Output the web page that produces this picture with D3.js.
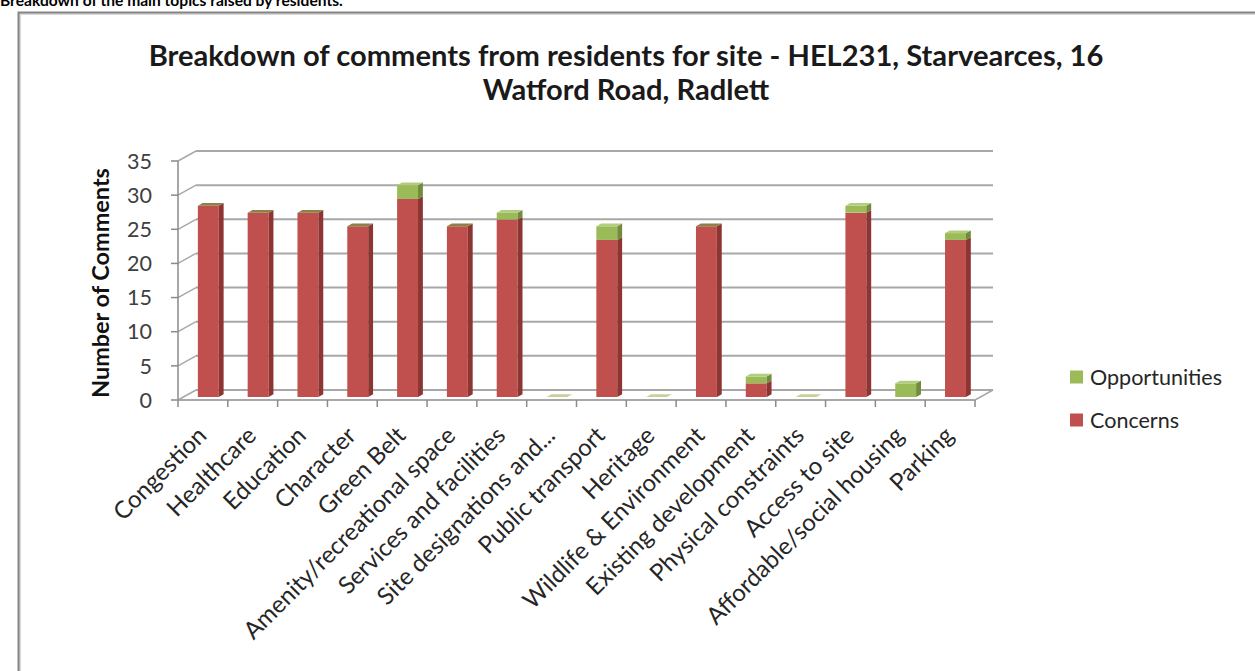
<!DOCTYPE html>
<html><head><meta charset="utf-8">
<script src="https://cdn.jsdelivr.net/npm/d3@7"></script>
<style>html,body{margin:0;padding:0;background:#fff;overflow:hidden}svg{display:block}</style>
</head><body>
<svg id="c" width="1255" height="671"></svg>
<script>
const categories = ["Congestion","Healthcare","Education","Character","Green Belt","Amenity/recreational space","Services and facilities","Site designations and...","Public transport","Heritage","Wildlife & Environment","Existing development","Physical constraints","Access to site","Affordable/social housing","Parking"];
const concerns      = [28,27,27,25,29,25,26,0,23,0,25,2,0,27,0,23];
const opportunities = [0,0,0,0,2,0,1,0,2,0,0,1,0,1,2,1];
const yTicks = [0,5,10,15,20,25,30,35];
const seriesNames = ["Opportunities","Concerns"];
const headerText = "Breakdown of the main topics raised by residents.";
const titleLines = ["Breakdown of comments from residents for site - HEL231, Starvearces, 16","Watford Road, Radlett"];
const yTitle = "Number of Comments";

const svg = d3.select("#c");
const FONT = "Lato, 'Open Sans', sans-serif";
const RED = {front:"#c0504d", side:"#8c3533", top:"#d27b78"};
const GREEN = {front:"#9bbb59", side:"#728b3c", top:"#b2cd7e", flat:"#8c8247"};

function fit(sel, target){ // scale font so text width matches target width
  const n = sel.node(); const fs = parseFloat(sel.attr("font-size"));
  const w = n.getComputedTextLength(); sel.attr("font-size", fs*target/w); return fs*target/w;
}

// frame
svg.append("rect").attr("x",20).attr("y",14).attr("width",1260).attr("height",700)
  .attr("fill","none").attr("stroke","#d8d8d8").attr("stroke-width",2);
svg.append("rect").attr("x",18.5).attr("y",12.5).attr("width",1260).attr("height",700)
  .attr("fill","none").attr("stroke","#858585").attr("stroke-width",2);

// header (clipped at top, as in the source page)
const hd = svg.append("text").attr("x",0).attr("y",6).attr("font-family",FONT).attr("font-weight","bold")
  .attr("font-size",18).attr("fill","#000").text(headerText);
fit(hd,343);

// chart title
const t1 = svg.append("text").attr("x",626).attr("y",66).attr("text-anchor","middle").attr("font-family",FONT)
  .attr("font-weight","bold").attr("font-size",22).attr("fill","#1a1a1a").text(titleLines[0]);
const tfs = fit(t1,955);
svg.append("text").attr("x",626).attr("y",100).attr("text-anchor","middle").attr("font-family",FONT)
  .attr("font-weight","bold").attr("font-size",tfs).attr("fill","#1a1a1a").text(titleLines[1]);

// scales
const x = d3.scaleBand().domain(categories).range([178,975]).paddingInner(0.58).paddingOuter(0.29);
const y = d3.scaleLinear().domain([0,35]).range([400,161]);
const DX = 18, DY = -10;       // depth vector
const F0 = 0.3, F1 = 0.57;     // bar depth span (fraction)
const GRID = "#a8a8a8";

const g = svg.append("g");
// back wall gridlines + left wall diagonals
yTicks.forEach(v=>{
  g.append("line").attr("x1",178+DX).attr("x2",975+DX).attr("y1",y(v)+DY).attr("y2",y(v)+DY)
    .attr("stroke",GRID).attr("stroke-width",2);
  g.append("line").attr("x1",178).attr("x2",178+DX).attr("y1",y(v)).attr("y2",y(v)+DY)
    .attr("stroke",GRID).attr("stroke-width",1.5);
});
// floor
g.append("line").attr("x1",178).attr("x2",975).attr("y1",y(0)).attr("y2",y(0)).attr("stroke",GRID).attr("stroke-width",2);
g.append("line").attr("x1",975).attr("x2",975+DX).attr("y1",y(0)).attr("y2",y(0)+DY).attr("stroke",GRID).attr("stroke-width",1.5);
// y axis line + ticks
g.append("line").attr("x1",178).attr("x2",178).attr("y1",y(35)).attr("y2",y(0)).attr("stroke","#8a8a8a").attr("stroke-width",1.5);
yTicks.forEach(v=>{
  g.append("line").attr("x1",171).attr("x2",178).attr("y1",y(v)).attr("y2",y(v)).attr("stroke","#8a8a8a").attr("stroke-width",1.5);
});
// x ticks
const step = x.step();
d3.range(categories.length+1).forEach(i=>{
  const xx = 178 + i*step;
  g.append("line").attr("x1",xx).attr("x2",xx).attr("y1",y(0)).attr("y2",y(0)+7).attr("stroke","#8a8a8a").attr("stroke-width",1.5);
});

// y tick labels
const tl = g.selectAll(".yt").data(yTicks).enter().append("text")
  .attr("x",152).attr("y",d=>y(d)).attr("dy","0.36em").attr("text-anchor","end")
  .attr("font-family",FONT).attr("font-size",20).attr("fill","#404040").text(d=>d);
const tickFs = fit(d3.select(tl.nodes()[7]),25);
tl.attr("font-size",tickFs);

// y title
const yt = g.append("text").attr("transform","translate(109,283) rotate(-90)").attr("text-anchor","middle")
  .attr("font-family",FONT).attr("font-weight","bold").attr("font-size",20).attr("fill","#111").text(yTitle);
fit(yt,230);

// bars
function poly(pts, fill){ g.append("polygon").attr("points",pts.map(p=>p.join(",")).join(" ")).attr("fill",fill); }
categories.forEach((c,i)=>{
  const bx = x(c) + F0*DX, bw = x.bandwidth();
  const oy = F0*DY;
  const ddx = (F1-F0)*DX, ddy = (F1-F0)*DY;
  const segs = [[0, concerns[i], RED],[concerns[i], concerns[i]+opportunities[i], GREEN]];
  segs.forEach(([a,b,col])=>{
    if (b<=a) return;
    const ya = y(a)+oy, yb = y(b)+oy;
    poly([[bx,yb],[bx+bw,yb],[bx+bw,ya],[bx,ya]], col.front);
    poly([[bx+bw,yb],[bx+bw+ddx,yb+ddy],[bx+bw+ddx,ya+ddy],[bx+bw,ya]], col.side);
  });
  const tot = concerns[i]+opportunities[i];
  const yt2 = y(tot)+oy;
  const topFill = opportunities[i]>0 ? GREEN.top : (tot>0 ? GREEN.flat : "#c5d39a");
  poly([[bx,yt2],[bx+bw,yt2],[bx+bw+ddx,yt2+ddy],[bx+ddx,yt2+ddy]], topFill);
});

// x labels
const xl = g.selectAll(".xl").data(categories).enter().append("text")
  .attr("transform",d=>`translate(${x(d)+x.bandwidth()/2+5},${y(0)+37}) rotate(-45)`)
  .attr("text-anchor","end").attr("font-family",FONT).attr("font-size",20).attr("fill","#262626").text(d=>d);
const xfs = fit(d3.select(xl.nodes()[5]),288);
xl.attr("font-size",xfs);

// legend
const lg = svg.append("g");
const legY = [377,420];
const legCol = [GREEN.front, RED.front];
seriesNames.forEach((s,i)=>{
  lg.append("rect").attr("x",1070).attr("y",legY[i]-6.5).attr("width",13).attr("height",13).attr("fill",legCol[i]);
  lg.append("text").attr("x",1090).attr("y",legY[i]).attr("dy","0.36em").attr("font-family",FONT)
    .attr("font-size",tickFs).attr("fill","#262626").text(s);
});
</script>
</body></html>
